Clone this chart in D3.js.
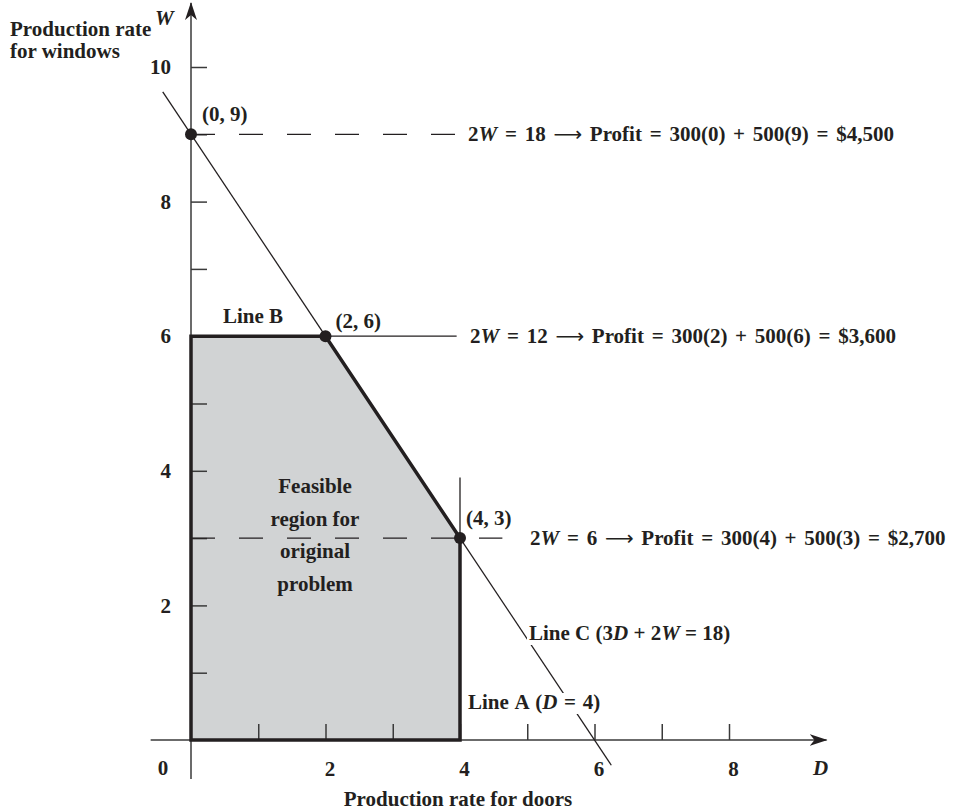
<!DOCTYPE html>
<html>
<head>
<meta charset="utf-8">
<script src="https://cdnjs.cloudflare.com/ajax/libs/d3/7.8.5/d3.min.js"></script>
<style>
  body { margin: 0; background: #fff; }
  svg text { font-family: "Liberation Serif", "Times New Roman", serif; font-weight: bold; font-size: 21px; fill: #231f20; }
</style>
</head>
<body>
<div id="chart"></div>
<script>
  var ink = '#231f20';

  // data
  var dTicks = [1, 2, 3, 4, 5, 6, 7, 8],
      wTicks = [1, 2, 3, 4, 5, 6, 7, 8, 9, 10],
      feasible = [[0, 0], [0, 6], [2, 6], [4, 3], [4, 0]],
      corners = [[0, 9], [2, 6], [4, 3]],
      cornerLabels = ['(0, 9)', '(2, 6)', '(4, 3)'],
      lineC = [[-0.42, 9.63], [6.25, -0.375]],
      lineA = [[4, 0], [4, 3.9]],
      lineB = [[2, 6], [3.95, 6]],
      dashLevels = [9, 3],
      dashEnds = [3.93, 4.63],
      profitW = [9, 6, 3],
      profitD = [0, 2, 4],
      profitTotal = ['$4,500', '$3,600', '$2,700'];

  var width = 960, height = 811;

  var svg = d3.select('#chart')
    .append('svg')
    .attr('width', width)
    .attr('height', height);

  var x = d3.scaleLinear().domain([0, 8]).range([191, 729]),
      y = d3.scaleLinear().domain([0, 10]).range([740, 67]);

  var line = d3.line()
    .x(function(d) { return x(d[0]); })
    .y(function(d) { return y(d[1]); });

  var defs = svg.append('defs');
  defs.append('marker')
    .attr('id', 'arrow')
    .attr('viewBox', '0 0 18 12')
    .attr('refX', 17)
    .attr('refY', 6)
    .attr('markerWidth', 18)
    .attr('markerHeight', 12)
    .attr('markerUnits', 'userSpaceOnUse')
    .attr('orient', 'auto')
    .append('path')
    .attr('d', 'M0,0 L18,6 L0,12 L5,6 Z')
    .attr('fill', ink);

  // feasible region
  svg.append('path')
    .datum(feasible)
    .attr('d', function(d) { return line(d) + 'Z'; })
    .attr('fill', '#d1d3d4')
    .attr('stroke', 'none');

  // axes lines with arrows
  svg.append('line')
    .attr('x1', x(-0.6)).attr('y1', y(0))
    .attr('x2', x(9.45)).attr('y2', y(0))
    .attr('stroke', '#3a3a3a').attr('stroke-width', 1.5)
    .attr('marker-end', 'url(#arrow)');
  svg.append('line')
    .attr('x1', x(0)).attr('y1', y(-0.58))
    .attr('x2', x(0)).attr('y2', y(10.95))
    .attr('stroke', '#3a3a3a').attr('stroke-width', 1.5)
    .attr('marker-end', 'url(#arrow)');

  // ticks via d3 axes
  var xAxis = svg.append('g')
    .attr('transform', 'translate(0,' + y(0) + ')')
    .call(d3.axisBottom(x)
      .tickValues(dTicks)
      .tickSizeInner(-16)
      .tickSizeOuter(0)
      .tickPadding(21)
      .tickFormat(function(d) { return d % 2 === 0 ? d : ''; }));
  var yAxis = svg.append('g')
    .attr('transform', 'translate(' + x(0) + ',0)')
    .call(d3.axisLeft(y)
      .tickValues(wTicks)
      .tickSizeInner(-16)
      .tickSizeOuter(0)
      .tickPadding(20)
      .tickFormat(function(d) { return d % 2 === 0 ? d : ''; }));

  [xAxis, yAxis].forEach(function(g) {
    g.attr('font-size', null).attr('font-family', null);
    g.select('.domain').remove();
    g.selectAll('.tick line').attr('stroke', '#3a3a3a').attr('stroke-width', 1.5);
    g.selectAll('text').attr('fill', ink);
  });
  xAxis.selectAll('text').attr('dx', 4);

  svg.append('text').attr('x', 163).attr('y', 775).attr('text-anchor', 'middle').text('0');
  svg.append('text').attr('x', 813).attr('y', 775).attr('font-style', 'italic').text('D');
  svg.append('text').attr('x', 155).attr('y', 25).attr('font-style', 'italic').text('W');

  // axis titles
  svg.append('text').attr('x', 10).attr('y', 36).text('Production rate');
  svg.append('text').attr('x', 10).attr('y', 58).text('for windows');
  svg.append('text').attr('x', 458).attr('y', 806).attr('text-anchor', 'middle').text('Production rate for doors');

  // dashed profit lines
  dashLevels.forEach(function(w, i) {
    svg.append('line')
      .attr('x1', x(0)).attr('y1', y(w))
      .attr('x2', x(dashEnds[i])).attr('y2', y(w))
      .attr('stroke', ink).attr('stroke-width', 1.2)
      .attr('stroke-dasharray', '24,24');
  });

  // thin constraint lines
  [lineC, lineA, lineB].forEach(function(l) {
    svg.append('path')
      .datum(l)
      .attr('d', line)
      .attr('fill', 'none')
      .attr('stroke', ink)
      .attr('stroke-width', 1.3);
  });

  // feasible boundary
  svg.append('path')
    .datum(feasible)
    .attr('d', function(d) { return line(d) + 'Z'; })
    .attr('fill', 'none')
    .attr('stroke', ink)
    .attr('stroke-width', 3.5)
    .attr('stroke-linejoin', 'miter');

  // corner points
  svg.selectAll('circle.corner')
    .data(corners)
    .enter().append('circle')
    .attr('class', 'corner')
    .attr('cx', function(d) { return x(d[0]); })
    .attr('cy', function(d) { return y(d[1]); })
    .attr('r', 6)
    .attr('fill', ink);

  var labelOffsets = [[11, -13], [10, -8], [6, -13]];
  svg.selectAll('text.corner')
    .data(corners)
    .enter().append('text')
    .attr('class', 'corner')
    .attr('x', function(d, i) { return x(d[0]) + labelOffsets[i][0]; })
    .attr('y', function(d, i) { return y(d[1]) + labelOffsets[i][1]; })
    .text(function(d, i) { return cornerLabels[i]; });

  // profit texts
  var profitX = [468, 470, 530];
  profitW.forEach(function(w, i) {
    var t = svg.append('text')
      .attr('x', profitX[i])
      .attr('y', y(w) + 7)
      .attr('word-spacing', 2.5);
    t.append('tspan').text('2');
    t.append('tspan').attr('font-style', 'italic').text('W');
    t.append('tspan').text(' = ' + (2 * w) + ' ');
    t.append('tspan').attr('font-weight', 'normal').attr('font-family', 'DejaVu Sans').attr('font-size', 20).text('\u27F6');
    t.append('tspan').text('  Profit = 300(' + profitD[i] + ') + 500(' + w + ') = ' + profitTotal[i]);
  });

  // line labels on a white box so the lines break around them
  function boxed(t) {
    var b = t.node().getBBox();
    svg.insert('rect', function() { return t.node(); })
      .attr('x', b.x - 2).attr('y', b.y + 3)
      .attr('width', b.width + 4).attr('height', b.height - 3)
      .attr('fill', '#fff');
  }

  svg.append('text').attr('x', 223).attr('y', 323).text('Line B');

  var la = svg.append('text').attr('x', 468).attr('y', 709).attr('word-spacing', 1.5);
  la.append('tspan').text('Line A (');
  la.append('tspan').attr('font-style', 'italic').text('D');
  la.append('tspan').text(' = 4)');
  boxed(la);

  var lc = svg.append('text').attr('x', 529).attr('y', 640);
  lc.append('tspan').text('Line C (3');
  lc.append('tspan').attr('font-style', 'italic').text('D');
  lc.append('tspan').text(' + 2');
  lc.append('tspan').attr('font-style', 'italic').text('W');
  lc.append('tspan').text(' = 18)');
  boxed(lc);

  // feasible region label
  var regionLines = ['Feasible', 'region for', 'original', 'problem'];
  svg.selectAll('text.region')
    .data(regionLines)
    .enter().append('text')
    .attr('class', 'region')
    .attr('x', 315)
    .attr('y', function(d, i) { return 493 + i * 32.5; })
    .attr('text-anchor', 'middle')
    .text(function(d) { return d; });
</script>
</body>
</html>
